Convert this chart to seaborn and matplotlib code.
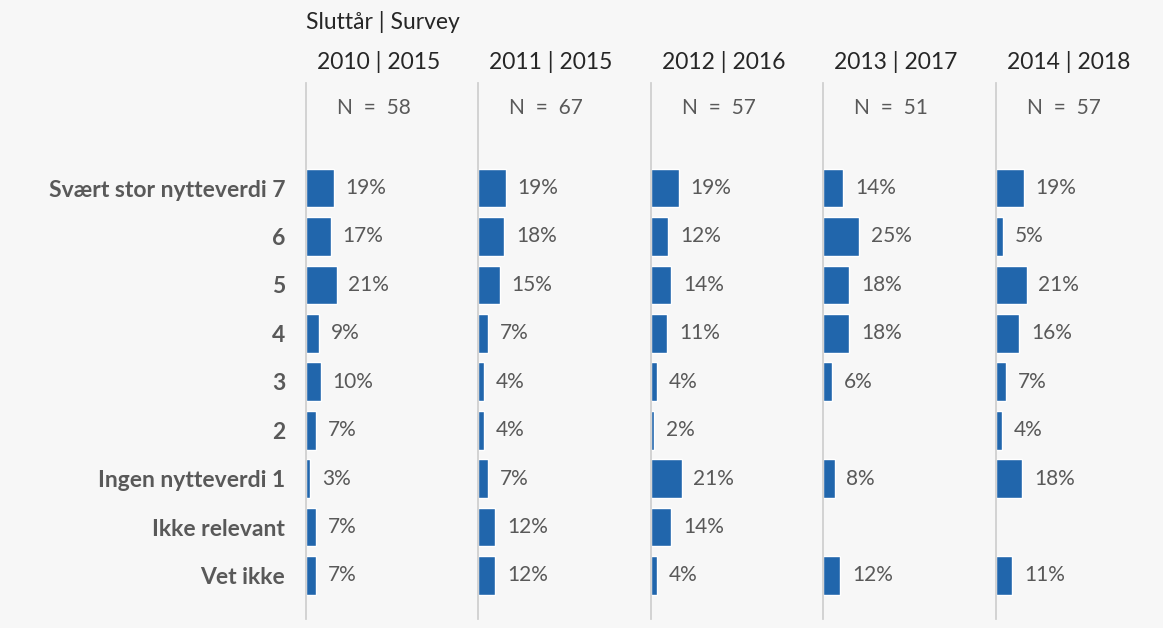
import numpy as np
import pandas as pd
import matplotlib
matplotlib.use("Agg")
import matplotlib.pyplot as plt
import seaborn as sns

categories = ["Svært stor nytteverdi 7", "6", "5", "4", "3", "2",
              "Ingen nytteverdi 1", "Ikke relevant", "Vet ikke"]
panels = ["2010 | 2015", "2011 | 2015", "2012 | 2016", "2013 | 2017", "2014 | 2018"]
n_values = [58, 67, 57, 51, 57]
v2010 = [19, 17, 21, 9, 10, 7, 3, 7, 7]
v2011 = [19, 18, 15, 7, 4, 4, 7, 12, 12]
v2012 = [19, 12, 14, 11, 4, 2, 21, 14, 4]
v2013 = [14, 25, 18, 18, 6, np.nan, 8, np.nan, 12]
v2014 = [19, 5, 21, 16, 7, 4, 18, np.nan, 11]
series = [v2010, v2011, v2012, v2013, v2014]

bg = "#f7f7f7"
bar_color = "#2166ac"
text_color = "#595959"

sns.set_theme(style="white")
plt.rcParams["font.family"] = ["Lato", "DejaVu Sans"]

W, H = 1163, 628
fig = plt.figure(figsize=(W / 100, H / 100), dpi=100, facecolor=bg)

lefts = [306, 478, 651, 823, 996]
pw = 172
top, bottom = 83, 619

for i, (name, vals, n) in enumerate(zip(panels, series, n_values)):
    ax = fig.add_axes([lefts[i] / W, (H - bottom) / H, pw / W, (bottom - top) / H])
    ax.set_facecolor(bg)
    df = pd.DataFrame({"kategori": categories, "andel": vals})
    sns.barplot(data=df, x="andel", y="kategori", ax=ax, color=bar_color,
                width=0.8, errorbar=None, saturation=1, order=categories)
    ax.set_xlim(0, 118)
    ax.set_ylim(8.9, -2.17)
    for j, v in enumerate(vals):
        if not np.isnan(v):
            ax.annotate(f"{v:.0f}%", (v, j), xytext=(8.5, 0), textcoords="offset points",
                        va="center", ha="left", fontsize=15, color=text_color)
    ax.text(68 / pw, -1.65, f"N  =  {n}", transform=ax.get_yaxis_transform(),
            ha="center", va="center", fontsize=15, color=text_color)
    fig.text((lefts[i] + 73) / W, 1 - 62 / H, name, ha="center", va="center",
             fontsize=16.5, color="#262626")
    ax.set_xlabel("")
    ax.set_ylabel("")
    ax.set_xticks([])
    for s in ["top", "right", "bottom"]:
        ax.spines[s].set_visible(False)
    ax.spines["left"].set_color("#d0d0d0")
    ax.spines["left"].set_linewidth(1.3)
    if i == 0:
        ax.tick_params(axis="y", length=0, pad=15)
        for lab in ax.get_yticklabels():
            lab.set_fontweight("bold")
            lab.set_fontsize(16.5)
            lab.set_color(text_color)
    else:
        ax.set_yticks([])

fig.text(306 / W, 1 - 22 / H, "Sluttår | Survey", ha="left", va="center",
         fontsize=16.5, color="#262626")

fig.savefig("out.png", dpi=100, facecolor=bg)
